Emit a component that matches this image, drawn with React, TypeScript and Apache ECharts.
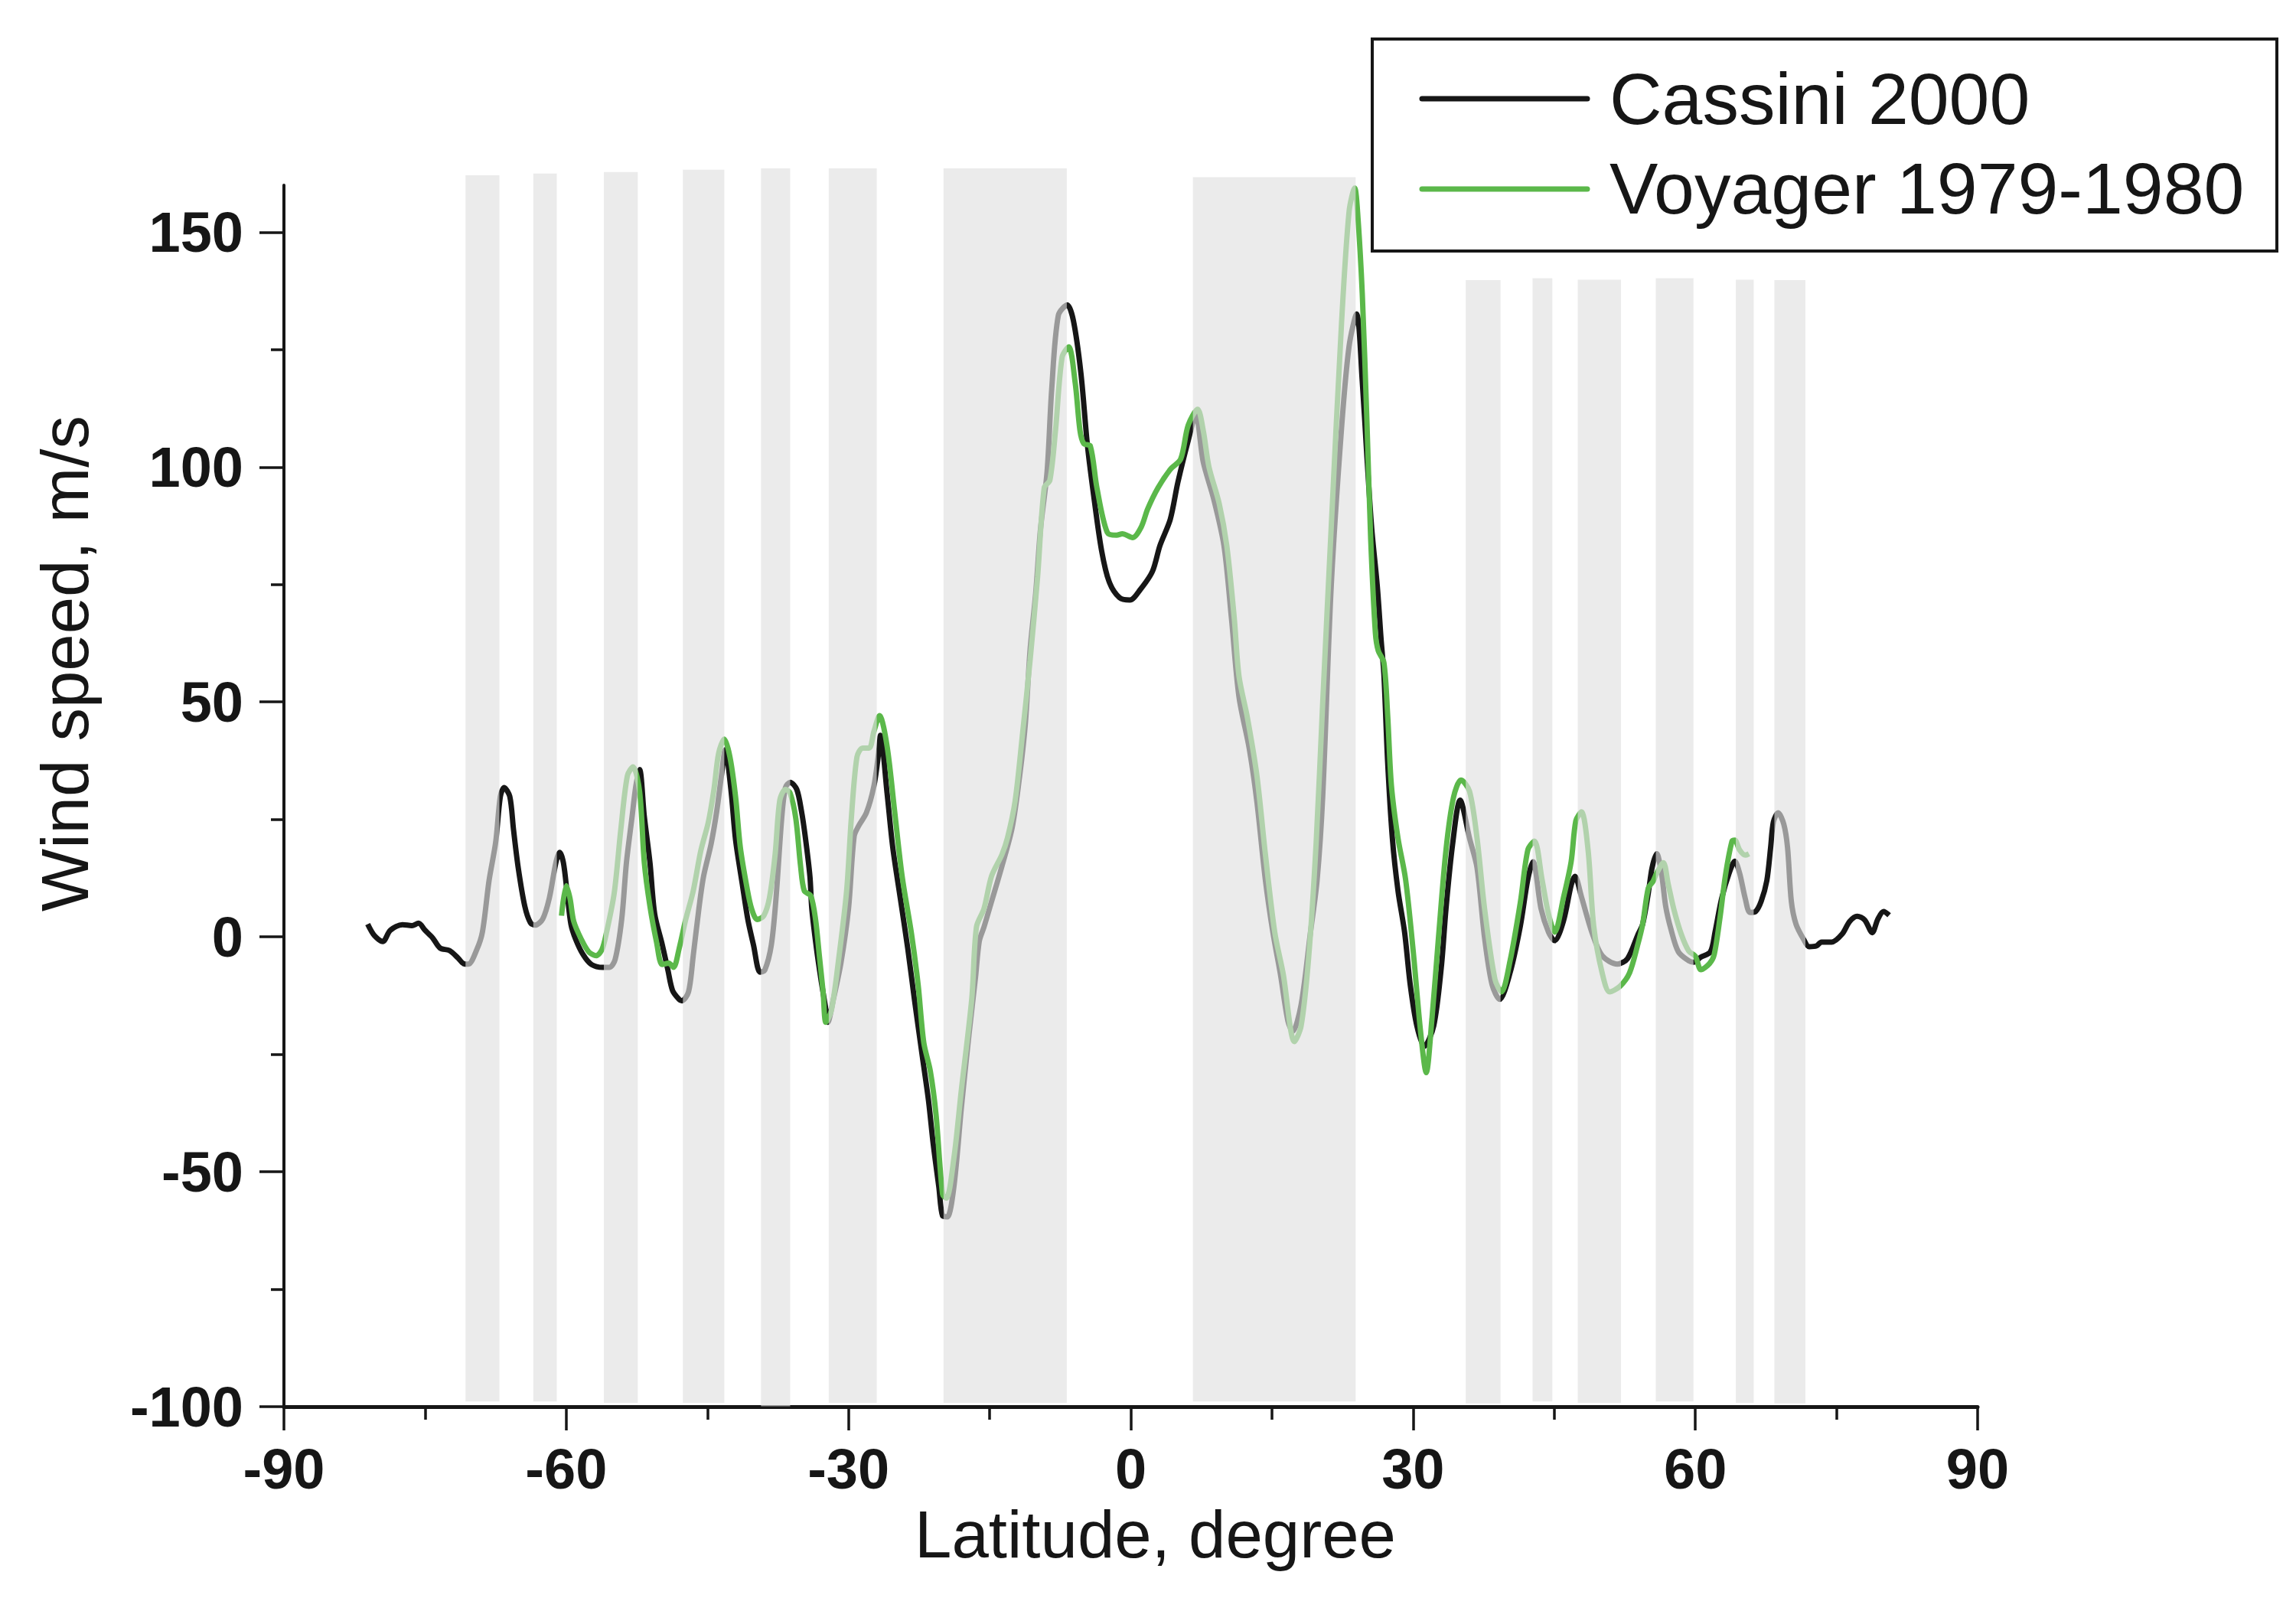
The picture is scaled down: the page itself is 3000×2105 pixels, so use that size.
import React, { useEffect, useRef } from "react";
import * as echarts from "echarts";

const FONT = "'Liberation Sans', Arial, Helvetica, sans-serif";
const INK = "#161616";
const GREEN = "#5bb84a";

const legendNames = ["Cassini 2000", "Voyager 1979-1980"];
const xTicks = [-90, -60, -30, 0, 30, 60, 90];
const yMajorTicks = [-100, -50, 0, 50, 100, 150];
const yMinorTicks = [-75, -25, 25, 75, 125];

// shaded latitude bands (overlaid semi-transparently on the curves)
const bandStart = [-70.7, -63.5, -56.0, -47.6, -39.3, -32.1, -19.9, 6.6, 35.6, 42.7, 47.5, 55.8, 64.3, 68.4];
const bandEnd = [-67.1, -61.0, -52.4, -43.2, -36.2, -27.0, -6.8, 23.9, 39.3, 44.8, 52.1, 59.8, 66.2, 71.7];
const bandTop = [162.1, 162.5, 162.8, 163.3, 163.6, 163.6, 163.6, 161.7, 139.8, 140.2, 139.9, 140.2, 139.9, 139.8];
const bandBottom = [-98.9, -98.9, -99.2, -99.2, -99.9, -99.2, -99.2, -98.9, -99.3, -98.9, -99.2, -98.9, -99.2, -99.3];

// [latitude, wind speed]
const cassini: [number, number][] = [
  [-81.1, 2.7], [-80.4, 0.3], [-79.5, -1.0], [-78.7, 1.4], [-77.4, 2.6], [-76.4, 2.4], [-75.7, 2.9],
  [-75.0, 1.4], [-74.2, -0.2], [-73.4, -2.4], [-72.4, -2.9], [-71.5, -4.5], [-70.9, -5.7], [-70.4, -5.8],
  [-69.5, -2.7], [-68.9, 1.1], [-68.2, 12.0], [-67.5, 20.1], [-67.0, 29.9], [-66.6, 31.8], [-66.0, 29.9],
  [-65.6, 22.8], [-65.1, 14.7], [-64.4, 6.5], [-63.8, 3.0], [-63.3, 2.5], [-62.5, 3.8], [-61.8, 8.2],
  [-61.1, 15.8], [-60.7, 18.0], [-60.3, 15.8], [-59.9, 9.3], [-59.5, 2.7], [-59.0, -0.5], [-58.2, -3.8],
  [-57.3, -5.9], [-56.1, -6.5], [-55.4, -6.5], [-54.8, -4.8], [-54.1, 3.8], [-53.6, 15.8], [-53.0, 25.6],
  [-52.6, 32.1], [-52.2, 35.6], [-51.7, 25.6], [-51.1, 15.8], [-50.6, 4.9], [-49.8, -1.6], [-49.2, -7.0],
  [-48.7, -11.4], [-48.0, -13.3], [-47.7, -13.6], [-47.0, -11.7], [-46.5, -4.0], [-45.9, 6.0], [-45.4, 12.9],
  [-44.6, 19.8], [-44.0, 26.8], [-43.5, 34.4], [-43.1, 39.8], [-42.5, 31.4], [-42.0, 20.6], [-41.3, 11.4],
  [-40.7, 3.7], [-40.1, -1.7], [-39.4, -7.5], [-38.9, -7.1], [-38.2, -1.7], [-37.7, 8.3], [-37.1, 25.2],
  [-36.7, 31.8], [-36.2, 32.9], [-35.5, 31.4], [-35.0, 26.8], [-34.6, 21.4], [-34.1, 12.9], [-33.9, 6.0],
  [-33.4, -2.5], [-32.9, -9.4], [-32.4, -15.5], [-32.2, -18.2], [-31.6, -13.2], [-30.8, -5.5], [-30.0, 6.0],
  [-29.4, 21.4], [-28.9, 23.7], [-28.1, 26.4], [-27.3, 32.1], [-26.8, 39.1], [-26.6, 42.9], [-25.9, 30.6],
  [-25.3, 19.1], [-24.5, 8.3], [-23.7, -2.5], [-23.0, -13.2], [-22.2, -24.8], [-21.5, -34.8], [-21.0, -44.0],
  [-20.4, -53.2], [-20.0, -59.4], [-19.5, -59.6], [-18.8, -53.2], [-18.0, -36.3], [-17.2, -20.9], [-16.5, -8.6],
  [-16.1, -0.9], [-15.6, 2.1], [-14.8, 7.5], [-13.7, 15.0], [-12.6, 23.3], [-11.8, 34.4], [-11.2, 45.5],
  [-10.7, 61.1], [-10.1, 73.3], [-9.6, 86.7], [-8.9, 98.9], [-8.4, 116.7], [-7.7, 132.3], [-6.75, 134.5],
  [-6.1, 131.2], [-5.3, 120.0], [-4.6, 104.5], [-3.9, 93.3], [-3.1, 82.2], [-2.3, 75.6], [-1.2, 72.2],
  [-0.1, 71.7], [1.0, 73.9], [2.3, 77.8], [3.1, 83.3], [4.2, 88.9], [5.0, 96.7], [6.1, 105.6], [6.9, 111.1],
  [7.7, 101.1], [8.8, 93.3], [9.9, 83.3], [10.7, 67.8], [11.5, 51.1], [12.6, 40.0], [13.4, 28.8], [14.3, 12.2],
  [15.1, 1.0], [15.9, -7.9], [16.7, -17.9], [17.2, -20.1], [18.1, -14.5], [19.1, 1.0], [19.8, 12.0],
  [20.4, 30.0], [21.3, 74.6], [22.4, 108.3], [23.2, 125.7], [24.0, 132.6], [24.6, 118.3], [25.1, 102.1],
  [25.6, 87.1], [26.2, 74.6], [26.6, 63.4], [26.9, 55.9], [27.3, 37.2], [27.8, 21.0], [28.4, 9.8], [29.1, 1.0],
  [29.7, -10.2], [30.4, -18.9], [31.2, -23.3], [32.2, -18.9], [33.0, -6.5], [33.5, 6.0], [34.2, 19.7],
  [35.0, 29.1], [36.0, 21.0], [36.8, 14.7], [37.6, -0.2], [38.4, -10.2], [39.2, -13.3], [40.3, -7.7],
  [41.4, 2.3], [42.2, 12.3], [42.75, 16.0], [43.6, 6.0], [44.4, 1.0], [45.05, -0.8], [46.0, 3.5], [46.8, 11.0],
  [47.2, 12.9], [47.9, 8.5], [49.0, 1.0], [50.1, -4.0], [51.7, -5.8], [52.8, -4.6], [53.9, 0.5], [54.4, 2.7],
  [55.0, 9.3], [55.4, 14.7], [55.9, 17.7], [56.4, 13.6], [56.85, 6.5], [57.4, 1.7], [58.2, -3.2], [59.3, -5.1],
  [59.8, -5.4], [60.6, -4.3], [61.6, -3.2], [62.1, 1.1], [62.8, 8.2], [63.6, 13.6], [64.2, 16.1], [64.7, 13.6],
  [65.3, 8.2], [65.8, 5.2], [66.4, 5.4], [67.0, 7.6], [67.6, 12.0], [68.0, 19.0], [68.3, 24.5], [68.8, 26.4],
  [69.4, 24.0], [69.8, 19.0], [70.2, 7.6], [70.7, 2.7], [71.5, -0.5], [72.1, -2.1], [72.9, -1.9], [73.4, -1.1],
  [74.5, -1.1], [75.6, 0.6], [76.4, 3.3], [77.2, 4.4], [78.0, 3.6], [78.8, 0.9], [79.4, 3.8], [80.0, 5.4],
  [80.6, 4.6],
];

const voyager: [number, number][] = [
  [-60.5, 4.5], [-60.0, 10.9], [-59.6, 8.2], [-59.2, 3.3], [-58.4, -0.5], [-57.6, -3.2], [-56.8, -4.0],
  [-56.2, -2.7], [-55.7, 1.1], [-54.9, 9.3], [-54.2, 22.8], [-53.5, 34.3], [-52.9, 36.2], [-52.2, 30.9],
  [-51.7, 15.8], [-51.1, 6.5], [-50.4, -1.1], [-49.8, -5.9], [-49.1, -5.6], [-48.6, -6.5], [-48.0, -2.5],
  [-47.3, 3.7], [-46.5, 9.8], [-45.7, 18.3], [-44.9, 24.4], [-44.3, 31.4], [-43.8, 39.1], [-43.2, 42.1],
  [-42.6, 38.3], [-42.0, 29.8], [-41.5, 19.1], [-40.8, 10.6], [-40.3, 6.0], [-39.7, 3.7], [-39.0, 4.5],
  [-38.4, 8.3], [-37.8, 17.5], [-37.3, 29.1], [-36.7, 31.4], [-36.2, 30.6], [-35.6, 25.2], [-35.1, 15.2],
  [-34.7, 9.8], [-34.0, 8.7], [-33.5, 3.7], [-33.1, -4.0], [-32.7, -11.7], [-32.4, -18.2], [-31.8, -15.5],
  [-31.0, -4.0], [-30.2, 9.8], [-29.7, 25.2], [-29.1, 38.3], [-28.5, 40.2], [-27.8, 40.2], [-27.3, 43.7],
  [-26.7, 47.1], [-25.9, 40.6], [-25.1, 26.8], [-24.3, 12.9], [-23.3, 0.6], [-22.6, -10.2], [-22.0, -22.5],
  [-21.3, -28.6], [-20.7, -37.8], [-20.0, -54.8], [-19.6, -55.6], [-18.8, -47.1], [-18.0, -32.5],
  [-16.9, -13.2], [-16.4, 2.1], [-15.6, 6.0], [-14.8, 12.9], [-13.7, 17.5], [-13.1, 21.1], [-12.3, 28.8],
  [-11.5, 43.3], [-10.7, 58.9], [-9.9, 76.7], [-9.2, 95.6], [-8.6, 97.2], [-8.0, 107.8], [-7.3, 123.4],
  [-6.6, 125.6], [-5.9, 117.8], [-5.4, 107.8], [-5.0, 105.0], [-4.3, 104.5], [-3.6, 95.6], [-2.5, 86.1],
  [-1.5, 85.5], [-0.9, 85.8], [0.2, 85.0], [1.1, 87.2], [1.8, 91.1], [2.9, 95.6], [4.2, 99.5], [5.3, 101.7],
  [6.1, 108.9], [7.1, 112.3], [7.7, 107.8], [8.3, 100.1], [9.4, 92.2], [10.2, 83.3], [11.0, 67.8], [11.5, 55.5],
  [12.4, 46.6], [13.4, 34.4], [14.3, 17.7], [15.3, 1.0], [16.2, -7.9], [17.4, -22.3], [18.1, -19.0],
  [18.9, -4.5], [19.7, 20.0], [20.4, 50.0], [21.3, 87.1], [22.4, 130.7], [23.2, 154.4], [23.8, 159.4],
  [24.1, 154.4], [24.6, 137.0], [25.1, 109.5], [25.5, 84.6], [26.0, 64.6], [26.3, 60.9], [26.9, 58.4],
  [27.3, 47.2], [27.7, 32.2], [28.4, 21.0], [29.2, 12.3], [30.0, -2.7], [30.8, -20.2], [31.4, -28.9],
  [32.0, -17.6], [32.7, -0.2], [33.5, 18.5], [34.3, 29.7], [35.1, 33.4], [36.0, 31.0], [36.8, 21.0],
  [37.6, 6.0], [38.7, -9.0], [39.4, -11.7], [40.3, -5.2], [41.4, 7.3], [42.2, 18.5], [42.9, 20.4],
  [43.7, 12.3], [44.4, 4.8], [45.05, 1.0], [46.0, 8.5], [46.8, 16.0], [47.3, 24.7], [47.9, 26.6],
  [48.6, 18.5], [49.2, 2.3], [50.1, -7.7], [50.9, -11.7], [52.0, -10.5], [53.0, -7.7], [53.9, -1.5],
  [54.4, 2.7], [55.0, 10.4], [55.5, 11.8], [55.9, 13.6], [56.6, 15.8], [57.1, 11.4], [57.7, 6.0],
  [58.5, 0.6], [59.3, -3.0], [60.0, -4.1], [60.6, -7.0], [61.5, -5.7], [62.0, -3.8], [62.6, 3.8],
  [63.2, 13.1], [63.9, 20.4], [64.2, 20.6], [64.7, 18.5], [65.3, 17.4], [65.7, 17.7],
];

const bands = bandStart.map((s, i) => [s, bandEnd[i], bandTop[i], bandBottom[i]]);

export default function App() {
  const ref = useRef<HTMLDivElement>(null);

  useEffect(() => {
    document.body.style.margin = "0";
    if (!ref.current) return;
    const chart = echarts.init(ref.current, null, { renderer: "svg" });

    const labelStyle = {
      fontFamily: FONT,
      fontWeight: "bold" as const,
      fontSize: 74,
      color: INK,
    };

    chart.setOption({
      animation: false,
      backgroundColor: "#ffffff",
      grid: {
        left: 371,
        right: 416,
        top: 242,
        bottom: 267,
        containLabel: false,
        outerBoundsMode: "none",
      },
      xAxis: {
        type: "value",
        min: -90,
        max: 90,
        interval: 30,
        name: "Latitude, degree",
        nameLocation: "middle",
        nameGap: 123,
        nameMoveOverlap: false,
        nameTextStyle: {
          fontFamily: FONT,
          fontSize: 87,
          color: INK,
          padding: [0, 0, 0, 64],
        },
        splitLine: { show: false },
        axisLine: { onZero: false, lineStyle: { color: INK, width: 5 } },
        axisTick: {
          show: true,
          length: 31,
          lineStyle: { color: INK, width: 3.5 },
          customValues: xTicks,
        },
        minorTick: {
          show: true,
          splitNumber: 2,
          length: 17,
          lineStyle: { color: INK, width: 3.5 },
        },
        axisLabel: { ...labelStyle, margin: 44, customValues: xTicks },
      },
      yAxis: [
        {
          type: "value",
          position: "left",
          min: -100,
          max: 160,
          name: "Wind speed, m/s",
          nameLocation: "middle",
          nameRotate: 90,
          nameGap: 243,
          nameMoveOverlap: false,
          nameTextStyle: {
            fontFamily: FONT,
            fontSize: 87,
            color: INK,
            padding: [0, 0, 0, 346],
          },
          splitLine: { show: false },
          axisLine: { show: true, onZero: false, lineStyle: { color: INK, width: 4 } },
          axisTick: {
            show: true,
            length: 32,
            lineStyle: { color: INK, width: 3.5 },
            customValues: yMajorTicks,
          },
          axisLabel: { ...labelStyle, margin: 53, customValues: yMajorTicks },
        },
        {
          type: "value",
          position: "left",
          min: -100,
          max: 160,
          splitLine: { show: false },
          axisLine: { show: false, onZero: false },
          axisTick: {
            show: true,
            length: 17,
            lineStyle: { color: INK, width: 3.5 },
            customValues: yMinorTicks,
          },
          axisLabel: { show: false },
        },
      ],
      series: [
        {
          name: legendNames[0],
          type: "line",
          data: cassini,
          showSymbol: false,
          smooth: 0.3,
          z: 2,
          lineStyle: { color: INK, width: 7 },
          itemStyle: { color: INK },
        },
        {
          name: legendNames[1],
          type: "line",
          data: voyager,
          showSymbol: false,
          smooth: 0.3,
          z: 3,
          lineStyle: { color: GREEN, width: 7 },
          itemStyle: { color: GREEN },
        },
        {
          name: "bands",
          type: "custom",
          z: 10,
          silent: true,
          clip: false,
          data: bands,
          encode: { x: [0, 1], y: [2, 3] },
          renderItem: (params: any, api: any) => {
            const p0 = api.coord([api.value(0), api.value(2)]);
            const p1 = api.coord([api.value(1), api.value(3)]);
            return {
              type: "rect",
              shape: { x: p0[0], y: p0[1], width: p1[0] - p0[0], height: p1[1] - p0[1] },
              style: { fill: "rgba(225,225,225,0.65)" },
            };
          },
        },
      ],
      graphic: [
        {
          type: "rect",
          z: 20,
          shape: { x: 1793, y: 51, width: 1182, height: 277 },
          style: { fill: "#ffffff", stroke: INK, lineWidth: 4 },
        },
        {
          type: "line",
          z: 21,
          shape: { x1: 1858, y1: 129, x2: 2074, y2: 129 },
          style: { stroke: INK, lineWidth: 7, lineCap: "round" },
        },
        {
          type: "text",
          z: 21,
          x: 2103,
          y: 129,
          style: {
            text: legendNames[0],
            fontFamily: FONT,
            fontSize: 95,
            fill: INK,
            textVerticalAlign: "middle",
            verticalAlign: "middle",
          },
        },
        {
          type: "line",
          z: 21,
          shape: { x1: 1858, y1: 247, x2: 2074, y2: 247 },
          style: { stroke: GREEN, lineWidth: 7, lineCap: "round" },
        },
        {
          type: "text",
          z: 21,
          x: 2103,
          y: 246,
          style: {
            text: legendNames[1],
            fontFamily: FONT,
            fontSize: 95,
            fill: INK,
            textVerticalAlign: "middle",
            verticalAlign: "middle",
          },
        },
      ],
    });

    return () => chart.dispose();
  }, []);

  return <div ref={ref} style={{ width: 3000, height: 2105 }} />;
}
